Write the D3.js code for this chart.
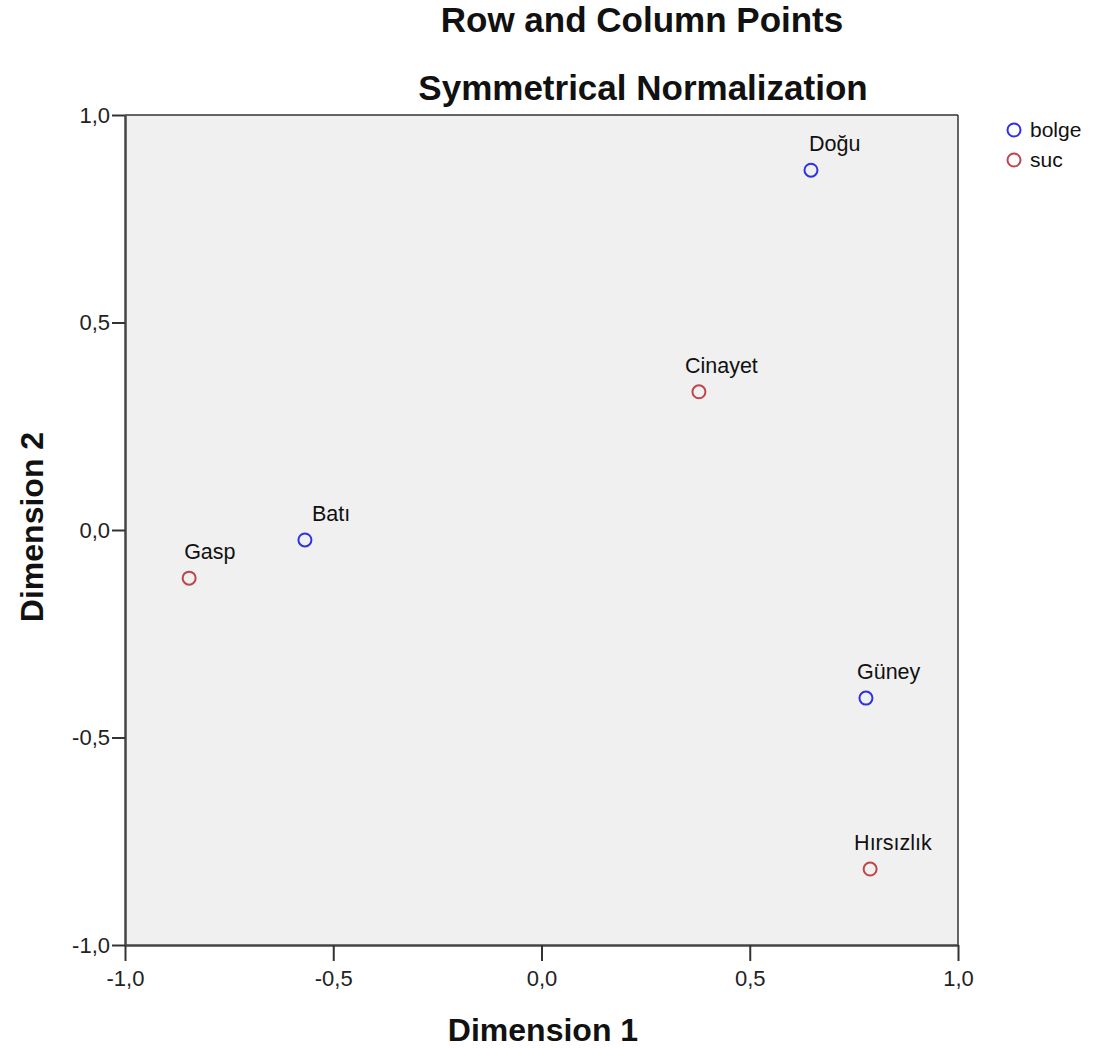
<!DOCTYPE html>
<html><head><meta charset="utf-8">
<script src="https://cdn.jsdelivr.net/npm/d3@7"></script>
<style>body{margin:0;background:#fff}text{font-family:"Liberation Sans",Arial,sans-serif}</style>
</head><body>
<svg id="c" width="1106" height="1048"></svg>
<script>
const labels = ["Doğu","Batı","Güney","Cinayet","Gasp","Hırsızlık"];
const dim1 = [0.647,-0.568,0.779,0.378,-0.846,0.789];
const dim2 = [0.867,-0.024,-0.405,0.333,-0.116,-0.817];
const groups = ["bolge","bolge","bolge","suc","suc","suc"];
const legendItems = ["bolge","suc"];
const ticks = [-1,-0.5,0,0.5,1];
const tickLabels = ["-1,0","-0,5","0,0","0,5","1,0"];

const colors = {bolge:"#2f2fe8", suc:"#c0454a"};
const labelDx = [-2,7,-9,-14,-5,-16];

const svg = d3.select("#c");
const L=125,R=958,T=115,B=945;
const x = d3.scaleLinear().domain([-1,1]).range([L,R]);
const y = d3.scaleLinear().domain([-1,1]).range([B,T]);

svg.append("rect").attr("x",L).attr("y",T).attr("width",R-L).attr("height",B-T).attr("fill","#f0f0f0");
svg.append("line").attr("x1",L).attr("x2",R).attr("y1",T).attr("y2",T).attr("stroke","#333").attr("stroke-width",1.5);
svg.append("line").attr("x1",R).attr("x2",R).attr("y1",T).attr("y2",B).attr("stroke","#333").attr("stroke-width",1.5);

const fmt = d => tickLabels[ticks.indexOf(d)];
const xa = svg.append("g").attr("transform",`translate(0,${B})`)
  .call(d3.axisBottom(x).tickValues(ticks).tickFormat(fmt).tickSize(16).tickPadding(9).tickSizeOuter(0));
const ya = svg.append("g").attr("transform",`translate(${L},0)`)
  .call(d3.axisLeft(y).tickValues(ticks).tickFormat(fmt).tickSize(13).tickPadding(2).tickSizeOuter(0));
[xa,ya].forEach(a=>{
  a.select(".domain").attr("stroke","#444").attr("stroke-width",2.5);
  a.selectAll(".tick line").attr("stroke","#333").attr("stroke-width",2);
  a.selectAll("text").attr("font-size",22).attr("fill","#222").style("font-family","Liberation Sans, Arial, sans-serif");
});

const pts = labels.map((l,i)=>({l,x:dim1[i],y:dim2[i],g:groups[i],dx:labelDx[i]}));
svg.selectAll("circle.p").data(pts).enter().append("circle").attr("class","p")
  .attr("cx",d=>x(d.x)).attr("cy",d=>y(d.y)).attr("r",6.5)
  .attr("fill","none").attr("stroke",d=>colors[d.g]).attr("stroke-width",2);
svg.selectAll("text.l").data(pts).enter().append("text").attr("class","l")
  .attr("x",d=>x(d.x)+d.dx).attr("y",d=>y(d.y)-19).attr("font-size",21.5).attr("fill","#111").text(d=>d.l);

svg.append("text").attr("x",642).attr("y",32).attr("text-anchor","middle").attr("font-size",35).attr("font-weight","bold").attr("fill","#111").text("Row and Column Points");
svg.append("text").attr("x",643).attr("y",100).attr("text-anchor","middle").attr("font-size",35).attr("font-weight","bold").attr("fill","#111").text("Symmetrical Normalization");
svg.append("text").attr("x",543).attr("y",1041).attr("text-anchor","middle").attr("font-size",32).attr("font-weight","bold").attr("fill","#111").text("Dimension 1");
svg.append("text").attr("transform",`translate(43,527) rotate(-90)`).attr("text-anchor","middle").attr("font-size",32).attr("font-weight","bold").attr("fill","#111").text("Dimension 2");

const lg = svg.selectAll("g.lg").data(legendItems).enter().append("g").attr("class","lg")
  .attr("transform",(d,i)=>`translate(1014,${130+i*30})`);
lg.append("circle").attr("r",6.5).attr("fill","none").attr("stroke",d=>colors[d]).attr("stroke-width",2);
lg.append("text").attr("x",16).attr("y",7).attr("font-size",21).attr("fill","#111").text(d=>d);
</script>
</body></html>
